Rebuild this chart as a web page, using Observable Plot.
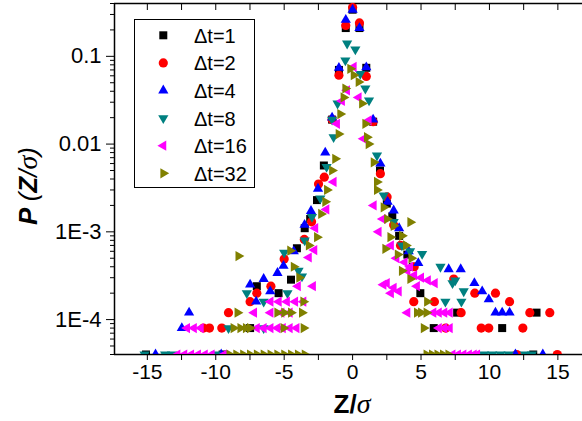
<!DOCTYPE html>
<html><head><meta charset="utf-8">
<script src="https://cdn.jsdelivr.net/npm/d3@7"></script>
<script src="https://cdn.jsdelivr.net/npm/@observablehq/plot@0.6"></script>
<style>
body{margin:0;background:#fff;}
#wrap{position:relative;width:582px;height:421px;overflow:hidden;font-family:Arial,"Liberation Sans",sans-serif;}
</style></head><body><div id="wrap"></div>
<script>
// ---------- data ----------
const seriesNames = ["Δt=1","Δt=2","Δt=4","Δt=8","Δt=16","Δt=32"];
const seriesColors = ["#000000","#ff0000","#0000ff","#008080","#ff00ff","#808000"];
const xTickValues = [-15,-10,-5,0,5,10,15];
const xMinorValues = [-17.5,-12.5,-7.5,-2.5,2.5,7.5,12.5];
const yTickValues = [0.1,0.01,0.001,0.0001];
const yTickLabels = ["0.1","0.01","1E-3","1E-4"];
const xDomain = [-17.4, 16.8];
const yDomain = [4e-5, 0.4];

const dt1 = [[0,0.34],[-0.5,0.21],[0.5,0.21],[-1,0.07],[1,0.074],[-1.5,0.019],[1.5,0.018],[-2.1,0.0057],[2,0.005],
 [-2.6,0.0023],[2.5,0.0021],[-3.1,0.0014],[2.9,0.0015],[-3.5,0.0011],[3.4,0.0009],[-4.07,6.5e-4],[4.0,5.5e-4],
 [-4.5,2.85e-4],[4.4,4e-4],[-5.41,2e-4],[4.95,2e-4],[-7.0,2.4e-4],[-7.49,8e-5],[5.93,8e-5],[7.64,1.2e-4],
 [10.93,8e-5],[13.44,1.2e-4],[-15.1,4e-5],[13.2,4e-5],[-9.5,4e-5]];
const dt2 = [[0,0.36],[-0.5,0.225],[0.5,0.24],[-1,0.061],[1,0.059],[-1.5,0.019],[1.5,0.018],[-2.07,0.0042],[2.03,0.0046],
 [-2.49,0.0035],[2.52,0.0025],[-3.0,0.0013],[3.0,0.0012],[-3.53,8.2e-4],[3.5,7e-4],[-5.0,4.9e-4],[4.5,4e-4],
 [-5.97,2.4e-4],[-7.0,2e-4],[-7.49,1.6e-4],[-9.07,1.2e-4],[-9.56,8e-5],[-10.46,8e-5],[-10.9,8e-5],[4.47,1.6e-4],
 [5.98,1.6e-4],[6.8,8e-5],[7.39,2.9e-4],[7.93,1.2e-4],[8.93,2e-4],[9.4,8e-5],[9.95,8e-5],[10.44,2e-4],[11.47,1.6e-4],
 [12.44,8e-5],[12.95,1.2e-4],[14.41,1.2e-4],[14.96,4e-5],[12.0,4e-5]];
const dt4 = [[0,0.34],[-0.5,0.26],[0.5,0.21],[-1,0.074],[1,0.075],[-1.5,0.02],[1.5,0.019],[-2.0,0.008],[2.03,0.006],
 [-2.53,0.0031],[2.56,0.0022],[-3.04,0.00173],[3.0,0.00175],[-3.51,0.0012],[3.4,0.0011],[-4.3,6e-4],[4.1,6e-4],
 [-5.05,4.1e-4],[4.8,4.4e-4],[-5.49,3.4e-4],[-6.02,2.1e-4],[-6.5,2.9e-4],[-7.05,1.6e-4],[-7.49,2.5e-4],
 [-11.95,1.2e-4],[-12.48,8e-5],[-14.4,4e-5],[7.02,3.75e-4],[7.9,3.75e-4],[8.9,2.6e-4],[9.47,2.1e-4],[9.95,1.7e-4],
 [10.44,1.2e-4],[10.93,1.2e-4],[11.47,1.2e-4],[11.9,4e-5],[13.9,4e-5],[-9.6,4e-5]];
const dt8 = [[-0.4,0.14],[0.2,0.12],[-0.53,0.09],[0.56,0.063],[0.93,0.043],[-1.1,0.029],[1.2,0.0315],[-1.5,0.019],
 [-1.39,0.012],[1.78,0.0074],[-1.9,0.0055],[-2.36,0.0024],[2.27,0.0026],[-2.97,0.00148],[3.0,0.0013],[-3.5,8e-4],
 [3.6,7e-4],[-3.95,3.6e-4],[-3.7,3.1e-4],[4.2,6e-4],[-5.0,5.8e-4],[-4.76,2e-4],[5.08,5.6e-4],[6.42,4e-4],
 [-6.5,1.6e-4],[-7.73,2e-4],[-9.07,8e-5],[-6.5,8e-5],[7.5,2.8e-4],[7.3,2.6e-4],[8.12,2.1e-4],[6.78,1.6e-4],
 [7.95,1.6e-4],[-15.2,4e-5],[-13.7,4e-5],[-13.2,4e-5],[-10,4e-5],[9.6,4e-5],[10.2,4e-5],[10.8,4e-5],[11.4,4e-5],
 [12.6,4e-5],[13.1,4e-5]];
const dt16 = [[0.08,0.076],[-0.41,0.041],[0.44,0.034],[-0.78,0.031],[-1.14,0.017],[1.17,0.0186],[0.8,0.0115],
 [-1.39,0.0037],[-1.92,0.0018],[-2.73,0.0011],[1.54,0.002],[1.9,0.001],[-2.8,6.2e-4],[-3.2,5.1e-4],[-2.9,2.4e-4],
 [-4.0,2.4e-4],[2.25,2.5e-4],[2.5,2.6e-4],[3.0,2.3e-4],[3.37,2.1e-4],[2.8,2e-4],[-3.6,1.6e-4],[-4.2,1.6e-4],
 [-4.8,1.6e-4],[-5.4,1.6e-4],[-6.0,1.6e-4],[-4.6,1.2e-4],[-5.2,1.2e-4],[-6.0,1.2e-4],[-7.2,1.2e-4],[-4.1,8e-5],
 [-4.6,8e-5],[-5.1,8e-5],[-5.5,8e-5],[-6.0,8e-5],[-6.5,8e-5],[-7.0,8e-5],[-11.1,8e-5],[-11.6,8e-5],[-12.1,8e-5],
 [-12.8,4e-5],[-12.3,4e-5],[-11.8,4e-5],[-11.3,4e-5],[-10.8,4e-5],[-10.3,4e-5],[-9.4,4e-5],[4.0,1.2e-4],
 [5.9,1.2e-4],[6.3,1.2e-4],[6.7,1.2e-4],[7.1,1.2e-4],[6.3,8e-5],[6.7,8e-5],[7.1,8e-5],[4.0,3.6e-4],[4.5,3.2e-4],
 [5.0,3e-4],[5.5,2.8e-4],[6.0,2.6e-4],[4.7,2.4e-4],[3.8,4.5e-4],[3.2,5e-4],[2.8,7e-4],[2.2,1.4e-3],[4.2,4e-4],
 [7.3,4e-5],[7.7,4e-5],[8.1,4e-5],[8.5,4e-5],[8.85,4e-5],[9.1,4e-5]];
const dt32 = [[-0.17,0.072],[0.08,0.061],[0.44,0.051],[-0.53,0.043],[-0.66,0.034],[0.69,0.029],[-0.9,0.022],[0.93,0.017],
 [-1.02,0.013],[1.05,0.012],[1.17,0.01],[-1.27,0.0068],[1.54,0.0062],[-1.5,0.005],[-1.87,0.003],[1.78,0.0037],
 [1.78,0.003],[-2.0,0.0022],[2.27,0.0019],[-2.3,0.0016],[-2.6,8.7e-4],[2.52,0.0014],[-3.2,7e-4],[3.0,0.00117],
 [2.76,8.7e-4],[3.61,9e-4],[4.22,0.00129],[2.39,6.4e-4],[3.9,7e-4],[4.3,5e-4],[3.3,5.5e-4],[3.6,3.6e-4],
 [4.22,2.9e-4],[5.44,1.6e-4],[4.7,1.2e-4],[5.0,1.2e-4],[5.4,1.2e-4],[5.2,8e-5],[-4.56,6.1e-4],[-4.3,4e-4],
 [-3.9,3e-4],[-8.34,5.3e-4],[-8.41,1.2e-4],[-5.5,1.2e-4],[-5.0,1.2e-4],[-4.5,1.2e-4],[-3.7,1.2e-4],[-3.6,1.6e-4],
 [-8.7,8e-5],[-8.2,8e-5],[-7.8,8e-5],[-7.5,8e-5],[-5.05,8e-5],[-3.58,8e-5],[-9.0,4e-5],[-8.5,4e-5],[-8.0,4e-5],
 [-7.5,4e-5],[-7.0,4e-5],[-6.5,4e-5],[-6.0,4e-5],[-5.5,4e-5],[-5.0,4e-5],[-4.5,4e-5],[-4.0,4e-5],[-3.5,4e-5],
 [5.4,4e-5],[5.8,4e-5],[6.2,4e-5],[6.6,4e-5],[7.0,4e-5]];
const allSeries = [dt1, dt2, dt4, dt8, dt16, dt32];

// ---------- symbols ----------
function tri(angleDeg, R) {
  return {draw(c) {
    for (let i = 0; i < 3; i++) {
      const a = (angleDeg + i * 120) * Math.PI / 180;
      const x = R * Math.cos(a), y = R * Math.sin(a);
      if (i) c.lineTo(x, y); else c.moveTo(x, y);
    }
    c.closePath();
  }};
}
const symbols = [
  {draw(c){ c.rect(-4, -4, 8, 8); }},
  {draw(c){ c.moveTo(4.6, 0); c.arc(0, 0, 4.6, 0, 2 * Math.PI); }},
  tri(-90, 5.9), tri(90, 5.9), tri(180, 5.9), tri(0, 5.9)
];

// minor log ticks
const yMinorValues = [];
for (let e = -5; e <= -1; e++) for (let k = 2; k <= 9; k++) {
  const v = k * Math.pow(10, e);
  if (v >= yDomain[0] && v <= yDomain[1]) yMinorValues.push(v);
}
const yLabelOf = v => yTickLabels[yTickValues.findIndex(t => Math.abs(t - v) / v < 1e-6)];

const plot = Plot.plot({
  width: 582, height: 421,
  marginLeft: 114, marginRight: 0, marginTop: 3, marginBottom: 67,
  style: {fontFamily: "Arial, 'Liberation Sans', sans-serif", fontSize: "20px", color: "#000", background: "transparent", overflow: "visible"},
  x: {domain: xDomain},
  y: {type: "log", domain: yDomain},
  marks: [
    Plot.axisX({ticks: xTickValues, tickSize: 6, tickPadding: 4, tickFormat: d => String(d), label: null, fontSize: 21}),
    Plot.axisX({ticks: xMinorValues.filter(v => v > xDomain[0]), tickSize: 6, tickFormat: () => "", label: null}),
    Plot.axisX({anchor: "top", ticks: xTickValues.concat(xMinorValues).filter(v => v > xDomain[0]), tickSize: -6, tickFormat: () => "", label: null}),
    Plot.axisY({ticks: yTickValues, tickSize: 8, tickPadding: 5, tickFormat: yLabelOf, label: null, fontSize: 22}),
    Plot.axisY({ticks: yMinorValues, tickSize: 4, tickFormat: () => "", label: null}),
    Plot.ruleX([xDomain[0]], {strokeWidth: 1.5}),
    Plot.ruleY([yDomain[0]], {strokeWidth: 1.5}),
    Plot.ruleY([yDomain[1]], {strokeWidth: 1.5}),
    ...allSeries.map((s, i) => Plot.dot(s, {x: d => d[0], y: d => d[1], symbol: symbols[i], r: 4.5, fill: seriesColors[i], stroke: "none", clip: true}))
  ]
});
document.getElementById("wrap").appendChild(plot);

// ---------- titles & legend ----------
const svg = d3.select(plot);
const xt = svg.append("text").attr("x", 352).attr("y", 413).attr("text-anchor", "middle")
  .style("font-size", "26px").style("font-family", "Arial, 'Liberation Sans', sans-serif").attr("fill", "#000");
xt.append("tspan").style("font-weight", "bold").text("Z/");
xt.append("tspan").style("font-style", "italic").style("font-family", "'Liberation Serif', serif").style("font-size", "28px").text("σ");

const yt = svg.append("text").attr("transform", "translate(37,186) rotate(-90)").attr("text-anchor", "middle")
  .style("font-size", "26px").style("font-family", "Arial, 'Liberation Sans', sans-serif").attr("fill", "#000");
yt.append("tspan").style("font-weight", "bold").style("font-style", "italic").text("P ");
yt.append("tspan").style("font-style", "italic").text("(");
yt.append("tspan").style("font-weight", "bold").style("font-style", "italic").text("Z");
yt.append("tspan").style("font-style", "italic").text("/");
yt.append("tspan").style("font-style", "italic").style("font-family", "'Liberation Serif', serif").style("font-size", "28px").text("σ");
yt.append("tspan").style("font-style", "italic").text(")");

const lg = svg.append("g");
lg.append("rect").attr("x", 134.5).attr("y", 19.5).attr("width", 120).attr("height", 168)
  .attr("fill", "#fff").attr("stroke", "#000").attr("stroke-width", 1);
seriesNames.forEach((name, i) => {
  const cy = 35.3 + i * 27.6;
  const p = d3.path(); symbols[i].draw(p, 64);
  lg.append("path").attr("transform", `translate(163.3,${cy})`).attr("d", p.toString()).attr("fill", seriesColors[i]);
  lg.append("text").attr("x", 194).attr("y", cy + 7.5).attr("fill", "#000").attr("text-anchor", "start")
    .style("font-size", "20px").style("font-family", "Arial, 'Liberation Sans', sans-serif").text(name);
});
</script></body></html>
